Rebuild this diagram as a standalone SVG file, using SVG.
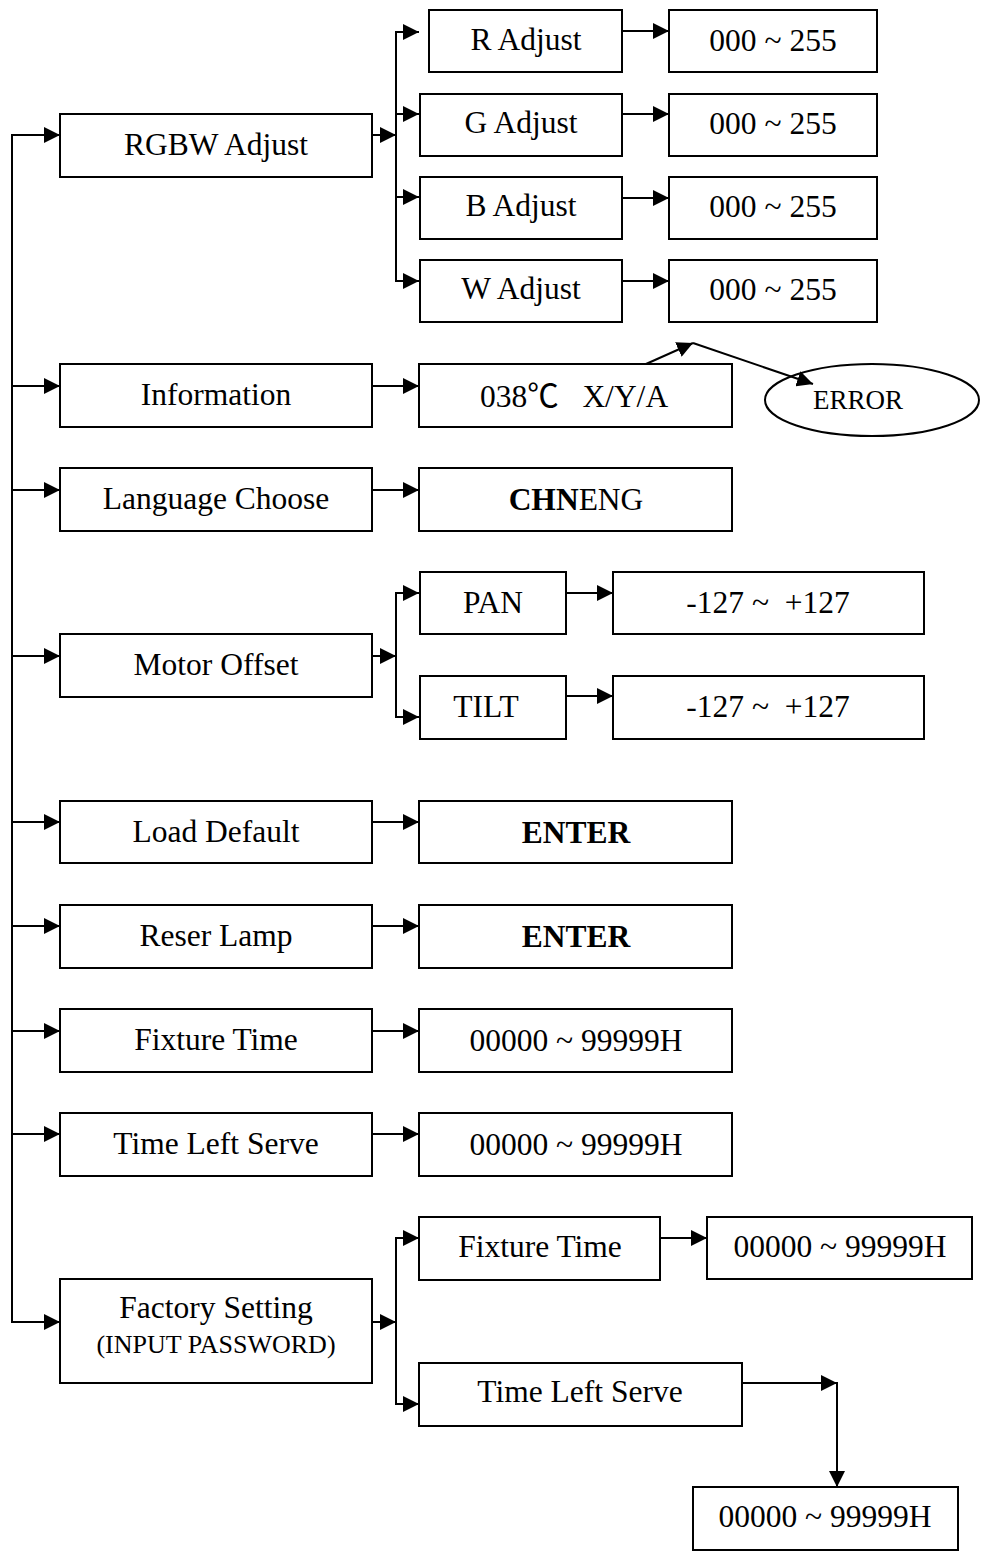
<svg xmlns="http://www.w3.org/2000/svg" width="981" height="1551" viewBox="0 0 981 1551">
<defs>
<marker id="ah" viewBox="0 0 16 16" markerWidth="16" markerHeight="16" refX="16" refY="8" orient="auto" markerUnits="userSpaceOnUse">
<path d="M0,0 L16,8 L0,16 z" fill="#000"/>
</marker>
<style>
rect, ellipse { fill: #fff; stroke: #000; stroke-width: 2; }
ellipse { fill: none; }
.c line { stroke: #000; stroke-width: 2; fill: none; }
.a { marker-end: url(#ah); }
text { font-family: "Liberation Serif", "Times New Roman", "Noto Sans CJK SC", serif; font-size: 31.5px; fill: #000; text-anchor: middle; }
.sm { font-size: 26px; }
.er { font-size: 27px; }
.b { font-weight: bold; }
</style>
</defs>
<rect x="0" y="0" width="981" height="1551" style="fill:#fff;stroke:none"/>

<g id="rgbw"><rect x="60" y="114" width="312" height="63"/><text x="216" y="155">RGBW Adjust</text></g>
<g id="r-adjust"><rect x="429" y="10" width="193" height="62"/><text x="526" y="50">R Adjust</text></g>
<g id="g-adjust"><rect x="420" y="94" width="202" height="62"/><text x="521" y="133">G Adjust</text></g>
<g id="b-adjust"><rect x="420" y="177" width="202" height="62"/><text x="521" y="216">B Adjust</text></g>
<g id="w-adjust"><rect x="420" y="260" width="202" height="62"/><text x="521" y="299">W Adjust</text></g>
<g id="r-val"><rect x="669" y="10" width="208" height="62"/><text x="773" y="51">000 ~ 255</text></g>
<g id="g-val"><rect x="669" y="94" width="208" height="62"/><text x="773" y="134">000 ~ 255</text></g>
<g id="b-val"><rect x="669" y="177" width="208" height="62"/><text x="773" y="217">000 ~ 255</text></g>
<g id="w-val"><rect x="669" y="260" width="208" height="62"/><text x="773" y="300">000 ~ 255</text></g>

<g id="information"><rect x="60" y="364" width="312" height="63"/><text x="216" y="405">Information</text></g>
<g id="info-val"><rect x="419" y="364" width="313" height="63"/><text x="480" y="407" xml:space="preserve" style="text-anchor:start">038℃   X/Y/A</text></g>
<g id="error"><ellipse cx="872" cy="400" rx="107" ry="36"/><text class="er" x="858" y="409">ERROR</text></g>

<g id="language"><rect x="60" y="468" width="312" height="63"/><text x="216" y="509">Language Choose</text></g>
<g id="language-val"><rect x="419" y="468" width="313" height="63"/><text x="576" y="510"><tspan class="b">CHN</tspan>ENG</text></g>

<g id="motor"><rect x="60" y="634" width="312" height="63"/><text x="216" y="675">Motor Offset</text></g>
<g id="pan"><rect x="420" y="572" width="146" height="62"/><text x="493" y="613">PAN</text></g>
<g id="pan-val"><rect x="613" y="572" width="311" height="62"/><text x="768" y="613" xml:space="preserve">-127 ~  +127</text></g>
<g id="tilt"><rect x="420" y="676" width="146" height="63"/><text x="486" y="717">TILT</text></g>
<g id="tilt-val"><rect x="613" y="676" width="311" height="63"/><text x="768" y="717" xml:space="preserve">-127 ~  +127</text></g>

<g id="load-default"><rect x="60" y="801" width="312" height="62"/><text x="216" y="842">Load Default</text></g>
<g id="load-val"><rect x="419" y="801" width="313" height="62"/><text class="b" x="576" y="843">ENTER</text></g>

<g id="reser-lamp"><rect x="60" y="905" width="312" height="63"/><text x="216" y="946">Reser Lamp</text></g>
<g id="reser-val"><rect x="419" y="905" width="313" height="63"/><text class="b" x="576" y="947">ENTER</text></g>

<g id="fixture-time"><rect x="60" y="1009" width="312" height="63"/><text x="216" y="1050">Fixture Time</text></g>
<g id="fixture-val"><rect x="419" y="1009" width="313" height="63"/><text x="576" y="1051">00000 ~ 99999H</text></g>

<g id="time-left"><rect x="60" y="1113" width="312" height="63"/><text x="216" y="1154">Time Left Serve</text></g>
<g id="time-left-val"><rect x="419" y="1113" width="313" height="63"/><text x="576" y="1155">00000 ~ 99999H</text></g>

<g id="factory"><rect x="60" y="1279" width="312" height="104"/><text x="216" y="1318">Factory Setting</text><text class="sm" x="216" y="1353">(INPUT PASSWORD)</text></g>
<g id="f-fixture"><rect x="419" y="1217" width="241" height="63"/><text x="540" y="1257">Fixture Time</text></g>
<g id="f-fixture-val"><rect x="707" y="1217" width="265" height="62"/><text x="840" y="1257">00000 ~ 99999H</text></g>
<g id="f-time-left"><rect x="419" y="1363" width="323" height="63"/><text x="580" y="1402">Time Left Serve</text></g>
<g id="f-time-left-val"><rect x="693" y="1487" width="265" height="63"/><text x="825" y="1527">00000 ~ 99999H</text></g>

<g id="connectors" class="c">
<line x1="12" y1="134" x2="12" y2="1323"/>
<line class="a" x1="11" y1="135" x2="60" y2="135"/>
<line class="a" x1="12" y1="386" x2="60" y2="386"/>
<line class="a" x1="12" y1="490" x2="60" y2="490"/>
<line class="a" x1="12" y1="656" x2="60" y2="656"/>
<line class="a" x1="12" y1="822" x2="60" y2="822"/>
<line class="a" x1="12" y1="926" x2="60" y2="926"/>
<line class="a" x1="12" y1="1031" x2="60" y2="1031"/>
<line class="a" x1="12" y1="1134" x2="60" y2="1134"/>
<line class="a" x1="11" y1="1322" x2="60" y2="1322"/>

<line class="a" x1="372" y1="135" x2="396" y2="135"/>
<line x1="396" y1="31" x2="396" y2="282"/>
<line class="a" x1="395" y1="32" x2="419" y2="32"/>
<line class="a" x1="396" y1="114" x2="419" y2="114"/>
<line class="a" x1="396" y1="197" x2="419" y2="197"/>
<line class="a" x1="395" y1="281" x2="419" y2="281"/>
<line class="a" x1="622" y1="31" x2="669" y2="31"/>
<line class="a" x1="622" y1="114" x2="669" y2="114"/>
<line class="a" x1="622" y1="198" x2="669" y2="198"/>
<line class="a" x1="622" y1="281" x2="669" y2="281"/>

<line class="a" x1="372" y1="386" x2="419" y2="386"/>
<line class="a" x1="646" y1="364" x2="693" y2="343"/>
<line class="a" x1="693" y1="343" x2="813" y2="384"/>

<line class="a" x1="372" y1="490" x2="419" y2="490"/>

<line class="a" x1="372" y1="656" x2="396" y2="656"/>
<line x1="396" y1="592" x2="396" y2="718"/>
<line class="a" x1="395" y1="593" x2="419" y2="593"/>
<line class="a" x1="395" y1="717" x2="419" y2="717"/>
<line class="a" x1="566" y1="593" x2="613" y2="593"/>
<line class="a" x1="566" y1="696" x2="613" y2="696"/>

<line class="a" x1="372" y1="822" x2="419" y2="822"/>
<line class="a" x1="372" y1="926" x2="419" y2="926"/>
<line class="a" x1="372" y1="1031" x2="419" y2="1031"/>
<line class="a" x1="372" y1="1134" x2="419" y2="1134"/>

<line class="a" x1="372" y1="1322" x2="396" y2="1322"/>
<line x1="396" y1="1237" x2="396" y2="1405"/>
<line class="a" x1="395" y1="1238" x2="419" y2="1238"/>
<line class="a" x1="395" y1="1404" x2="419" y2="1404"/>
<line class="a" x1="660" y1="1238" x2="707" y2="1238"/>
<line class="a" x1="742" y1="1383" x2="837" y2="1383"/>
<line class="a" x1="837" y1="1382" x2="837" y2="1487"/>
</g>
</svg>
